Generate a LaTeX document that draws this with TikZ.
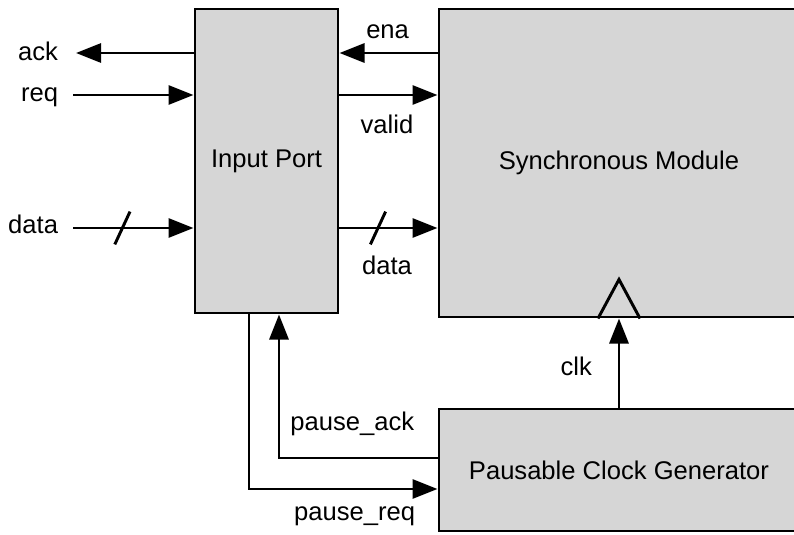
\documentclass[tikz,border=0pt]{standalone}
\usepackage{fontspec}
\setmainfont{Liberation Sans}
\usetikzlibrary{arrows.meta, positioning, calc}
\definecolor{blockgray}{RGB}{214,214,214}

\begin{document}
\begin{tikzpicture}[>={Triangle[length=17.8pt, width=13.5pt]}, font=\fontsize{18.2}{22}\selectfont,
		block/.style={draw, rectangle, line width=2.1pt, fill=blockgray, inner sep=0pt},
		sig/.style={line width=2.1pt}]
				\useasboundingbox (0, 0) rectangle (19.85, 13.35);
				
				\node[block, minimum width=3.575cm, minimum height=7.6cm] (inport) at (6.6625, 9.325) {Input Port};
				\node[block, minimum width=9cm, minimum height=7.7cm] (sync) at (15.475, 9.275) {Synchronous Module};
				\node[block, minimum width=9cm, minimum height=3.05cm] (pcg) at (15.475, 1.6) {Pausable Clock Generator};
				
				\coordinate (ackend) at (1.9, 12.025);
				\coordinate (reqstart) at (1.825, 10.975);
				\coordinate (datastart) at (1.825, 7.65);
				\coordinate (clkin) at (sync.south);
				\coordinate (ackturn) at (6.975, 1.9);
				\coordinate (reqturn) at (6.225, 1.125);
				
				\node[anchor=base east] (acklbl) at (1.575, 11.85) {ack};
				\node[anchor=base east] (reqlbl) at (1.575, 10.81) {req};
				\node[anchor=base east] (datalbl) at (1.575, 7.525) {data};
				\node[anchor=base] (enalbl) at (9.69, 12.4) {ena};
				\node[anchor=base] (validlbl) at (9.675, 10.02) {valid};
				\node[anchor=base] (syncdatalbl) at (9.675, 6.5) {data};
				\node[anchor=base east] (clklbl) at (14.92, 3.96) {clk};
				\node[anchor=base east] (pauseacklbl) at (10.48, 2.58) {pause\_ack};
				\node[anchor=base east] (pausereqlbl) at (10.5, 0.35) {pause\_req};
				
				% handshake into the input port
				\draw[sig, ->] (inport.west |- ackend) -- (ackend);
				\draw[sig, ->] (reqstart) -- (inport.west |- reqstart);
				\draw[sig, ->] (datastart) -- (inport.west |- datastart);
				\draw[sig] (2.87, 7.24) -- ++(0.38, 0.82);
				
				% input port to synchronous module
				\draw[sig, ->] (sync.west |- ackend) -- (inport.east |- ackend);
				\draw[sig, ->] (inport.east |- reqstart) -- (sync.west |- reqstart);
				\draw[sig, ->] (inport.east |- datastart) -- (sync.west |- datastart);
				\draw[sig] (9.26, 7.24) -- ++(0.38, 0.82);
				
				% clock input
				\draw[sig] ($(clkin)+(-0.525, 0)$) -- ($(clkin)+(0, 0.975)$) -- ($(clkin)+(0.525, 0)$);
				\draw[sig, ->] (pcg.north) -- (clkin);
				
				% pause handshake
				\draw[sig, ->] (pcg.west |- ackturn) -- (ackturn) -- (inport.south -| ackturn);
				\draw[sig, ->] (inport.south -| reqturn) -- (reqturn) -- (pcg.west |- reqturn);
			\end{tikzpicture}
\end{document}
